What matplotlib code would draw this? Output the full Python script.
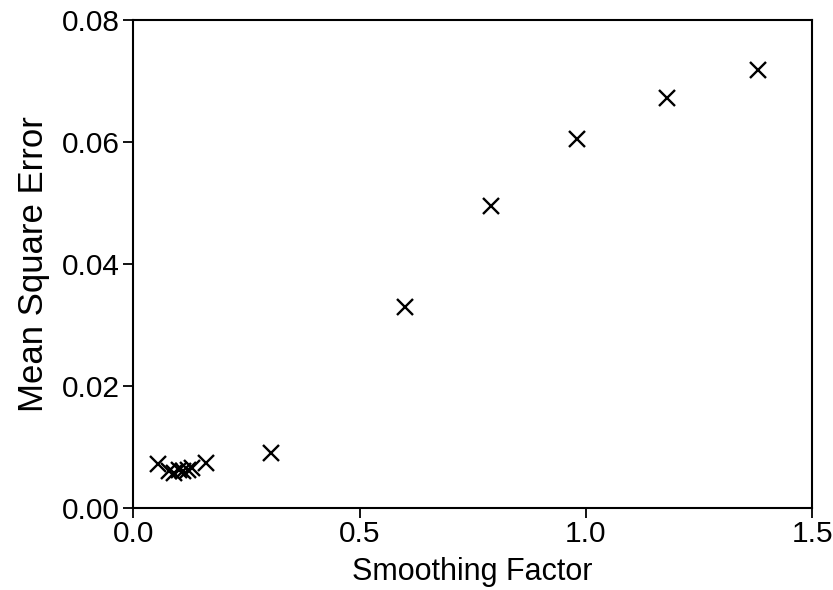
import matplotlib
matplotlib.use("Agg")
import matplotlib.pyplot as plt

plt.rcParams['font.family'] = ['Liberation Sans', 'DejaVu Sans']

# Smoothing factor vs. mean square error
smoothing = [0.055, 0.08, 0.09, 0.10, 0.11, 0.12, 0.13, 0.16,
             0.305, 0.60, 0.79, 0.98, 1.18, 1.38]
mse = [0.0072, 0.0060, 0.0058, 0.0062, 0.0060, 0.0063, 0.0065, 0.0073,
       0.0090, 0.0330, 0.0495, 0.0605, 0.0672, 0.0718]

x_ticks = [0.0, 0.5, 1.0, 1.5]
x_tick_labels = ["0.0", "0.5", "1.0", "1.5"]
y_ticks = [0.00, 0.02, 0.04, 0.06, 0.08]
y_tick_labels = ["0.00", "0.02", "0.04", "0.06", "0.08"]

fig = plt.figure(figsize=(8.33, 5.90), dpi=100)
ax = fig.add_axes([0.160, 0.139, 0.815, 0.827])

ax.plot(smoothing, mse, linestyle='none', marker='x', color='black',
        markersize=12, markeredgewidth=1.7)

ax.set_xlim(0.0, 1.5)
ax.set_ylim(0.0, 0.08)
ax.set_xticks(x_ticks)
ax.set_xticklabels(x_tick_labels)
ax.set_yticks(y_ticks)
ax.set_yticklabels(y_tick_labels)

ax.tick_params(axis='both', direction='out', length=7, width=1.3,
               labelsize=21.5, colors='black', pad=3)
ax.tick_params(axis='x', pad=2)
for side in ax.spines.values():
    side.set_linewidth(1.5)
    side.set_color('black')

ax.set_xlabel("Smoothing Factor", fontsize=22, labelpad=6)
ax.set_ylabel("Mean Square Error", fontsize=25, labelpad=8)

fig.savefig("out.png", dpi=100, facecolor='white')
